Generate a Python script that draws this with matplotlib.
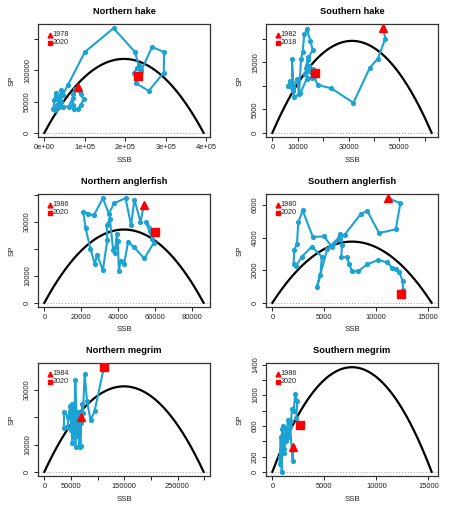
import matplotlib
matplotlib.use("Agg")
import matplotlib.pyplot as plt
import numpy as np

plt.rcParams['font.family'] = ['Liberation Sans', 'DejaVu Sans']

# ---- data ----
nhake_ssb = [82000, 72000, 70000, 73000, 82000, 90000, 97000, 90000, 76000, 70000,
             60000, 45000, 35000, 30000, 28000, 25000, 22000, 27000, 32000, 38000,
             42000, 45000, 40000, 35000, 30000, 35000, 58000, 100000, 171000, 224000,
             233000, 240000, 266000, 296000, 295000, 258000, 227000, 221000, 229000,
             238000, 232000]
nhake_sp = [73000, 62000, 45000, 38000, 38000, 44000, 54000, 62000, 70000, 55000,
            42000, 42000, 48000, 55000, 64000, 52000, 38000, 36000, 44000, 58000,
            68000, 60000, 50000, 42000, 40000, 48000, 76000, 129000, 167000, 129000,
            108000, 100000, 137000, 129000, 96000, 67000, 79000, 96000, 103000,
            98000, 91000]

shake_ssb = [43600, 44500, 41500, 38400, 31900, 23200, 17900, 16500, 13500, 11000,
             8600, 8200, 6000, 7000, 8000, 7700, 8200, 9700, 10500, 11300, 11900,
             12600, 13600, 15000, 15900, 14200, 13200, 14000, 13600, 13000, 14200,
             15800, 15300, 14600, 16000, 17200, 16800]
shake_sp = [22300, 20100, 15800, 13900, 6400, 9500, 10200, 11800, 11500, 8400,
            7600, 9200, 10000, 11000, 9000, 15800, 9800, 11500, 8300, 15800, 17300,
            21000, 22100, 19500, 17600, 16100, 13900, 15600, 13200, 12600, 11700,
            11600, 12900, 14200, 13500, 12900, 12800]

nang_ssb = [54000, 52100, 48800, 47000, 44000, 37700, 35000, 31700, 26800, 23600,
            21100, 22300, 25000, 27300, 28600, 31700, 34100, 33800, 35500, 37300,
            38200, 39500, 38700, 39800, 40400, 41300, 43200, 45400, 48500, 54200,
            59300, 58400, 57000, 55100, 60000]
nang_sp = [36200, 30000, 38200, 28700, 38700, 36800, 32900, 38700, 32300, 33000,
           33500, 27700, 20000, 14400, 17700, 12100, 23100, 28700, 31000, 19400,
           18500, 25500, 20500, 23000, 11600, 15500, 14400, 22500, 20600, 16400,
           22200, 23500, 26400, 29700, 26100]

sang_ssb = [11200, 12340, 11900, 10290, 9160, 8540, 6980, 6500, 5750, 4970, 3900,
            2920, 2500, 2370, 2110, 2050, 2270, 2860, 3800, 4770, 4640, 4290, 5300,
            6400, 6500, 6700, 6650, 7240, 7370, 7700, 8280, 9160, 10230, 11100,
            11530, 11950, 12240, 12560, 12600, 12500, 12400]
sang_sp = [6430, 6110, 4510, 4290, 5640, 5470, 4190, 3900, 3440, 4080, 4050, 5680,
           4940, 3590, 3270, 2410, 2260, 2840, 3450, 2840, 1690, 980, 3300, 4000,
           4200, 3550, 2800, 2800, 2410, 1940, 1940, 2370, 2630, 2480, 2160, 2090,
           1880, 1350, 770, 700, 560]

nmeg_ssb = [68800, 66000, 62000, 57000, 52500, 49400, 45000, 36900, 36900, 43100,
            48000, 50600, 52500, 55000, 58800, 60000, 56000, 58100, 60500, 62000,
            64000, 66000, 68100, 69000, 71300, 72500, 75600, 80000, 86900, 94400,
            111900]
nmeg_sp = [20000, 9500, 22000, 18500, 10500, 22900, 20000, 21900, 15900, 16300,
           24000, 15300, 25000, 18000, 9100, 22000, 14000, 33500, 20000, 13000,
           22000, 9000, 9500, 18000, 24900, 21700, 35800, 26000, 18800, 22300,
           38300]

smeg_ssb = [2010, 1950, 1700, 1500, 1300, 1150, 1000, 900, 850, 800, 750, 700, 950,
            1050, 1100, 1200, 1350, 1290, 1500, 1600, 1780, 1900, 2040, 2200, 2390,
            2300, 2620]
smeg_sp = [327, 140, 600, 450, 560, 300, 600, 0, 250, 450, 200, 100, 560, 380, 250,
           480, 500, 400, 680, 560, 667, 820, 790, 1016, 925, 700, 617]

# surplus production curves (K, MSY)
curves = {
    'Northern hake': (393500, 118000),
    'Southern hake': (62700, 19600),
    'Northern anglerfish': (86300, 27100),
    'Southern anglerfish': (15360, 3760),
    'Northern megrim': (299000, 31300),
    'Southern megrim': (15300, 1365),
}

years = {
    'Northern hake': ('1978', '2020'),
    'Southern hake': ('1982', '2018'),
    'Northern anglerfish': ('1986', '2020'),
    'Southern anglerfish': ('1980', '2020'),
    'Northern megrim': ('1984', '2020'),
    'Southern megrim': ('1986', '2020'),
}

series = {
    'Northern hake': (nhake_ssb, nhake_sp),
    'Southern hake': (shake_ssb, shake_sp),
    'Northern anglerfish': (nang_ssb, nang_sp),
    'Southern anglerfish': (sang_ssb, sang_sp),
    'Northern megrim': (nmeg_ssb, nmeg_sp),
    'Southern megrim': (smeg_ssb, smeg_sp),
}

# ticks: (values, labels shown)
xticks = {
    'Northern hake': ([0, 1e5, 2e5, 3e5, 4e5], ['0e+00', '1e+05', '2e+05', '3e+05', '4e+05']),
    'Southern hake': ([0, 10000, 20000, 30000, 40000, 50000, 60000], ['0', '10000', '', '30000', '', '50000', '']),
    'Northern anglerfish': ([0, 20000, 40000, 60000, 80000], ['0', '20000', '40000', '60000', '80000']),
    'Southern anglerfish': ([0, 5000, 10000, 15000], ['0', '5000', '10000', '15000']),
    'Northern megrim': ([0, 50000, 100000, 150000, 200000, 250000, 300000], ['0', '50000', '', '150000', '', '250000', '']),
    'Southern megrim': ([0, 5000, 10000, 15000], ['0', '5000', '10000', '15000']),
}
yticks = {
    'Northern hake': ([0, 50000, 100000, 150000], ['0', '50000', '100000', '']),
    'Southern hake': ([0, 5000, 10000, 15000, 20000], ['0', '5000', '', '15000', '']),
    'Northern anglerfish': ([0, 10000, 20000, 30000, 40000], ['0', '10000', '', '30000', '']),
    'Southern anglerfish': ([0, 2000, 4000, 6000], ['0', '2000', '4000', '6000']),
    'Northern megrim': ([0, 10000, 20000, 30000], ['0', '10000', '', '30000']),
    'Southern megrim': ([0, 200, 400, 600, 800, 1000, 1200, 1400], ['0', '200', '', '600', '', '1000', '', '1400']),
}

names = ['Northern hake', 'Southern hake', 'Northern anglerfish',
         'Southern anglerfish', 'Northern megrim', 'Southern megrim']

fig = plt.figure(figsize=(4.5, 5.09), dpi=100)
lefts = [0.0844, 0.5911]
bottoms = [0.7308, 0.3969, 0.0648]
w, h = 0.3822, 0.222

line_col = '#1AA3D4'

for i, name in enumerate(names):
    ax = fig.add_axes([lefts[i % 2], bottoms[i // 2], w, h])
    ssb, sp = series[name]
    K, msy = curves[name]
    b = np.linspace(0, K, 200)
    ax.plot(b, 4 * msy * b / K * (1 - b / K), color='black', lw=1.6, zorder=2)
    ax.axhline(0, color='#AAAAAA', lw=0.8, ls=':', zorder=1)
    ax.plot(ssb, sp, color=line_col, lw=1.5, marker='o', ms=2.7, zorder=3)
    ax.plot(ssb[0], sp[0], marker='^', color='red', ms=6, ls='none', zorder=4)
    ax.plot(ssb[-1], sp[-1], marker='s', color='red', ms=5.5, ls='none', zorder=4)
    ax.margins(x=0.04, y=0.04)

    # legend in top-left corner
    y0, y1 = years[name]
    ax.plot([0.072], [0.905], marker='^', color='red', ms=3.5, transform=ax.transAxes, clip_on=False)
    ax.plot([0.072], [0.835], marker='s', color='red', ms=3.2, transform=ax.transAxes, clip_on=False)
    ax.text(0.085, 0.905, y0, transform=ax.transAxes, fontsize=5.2, va='center', ha='left', color='#222222')
    ax.text(0.085, 0.835, y1, transform=ax.transAxes, fontsize=5.2, va='center', ha='left', color='#222222')

    xt, xl = xticks[name]
    yt, yl = yticks[name]
    ax.set_xticks(xt)
    ax.set_xticklabels(xl)
    ax.set_yticks(yt)
    ax.set_yticklabels(yl, rotation=90, va='center')
    ax.tick_params(direction='out', length=3, width=0.7, labelsize=5.4, pad=2, colors='#222222')
    for s in ax.spines.values():
        s.set_linewidth(0.9)
        s.set_color('#333333')
    ax.set_xlabel('SSB', fontsize=5.6, labelpad=4, color='#222222')
    ax.set_ylabel('SP', fontsize=5.6, labelpad=6, color='#222222')
    ax.set_title(name, fontsize=6.7, fontweight='bold', pad=7)

fig.savefig('out.png', dpi=100)
